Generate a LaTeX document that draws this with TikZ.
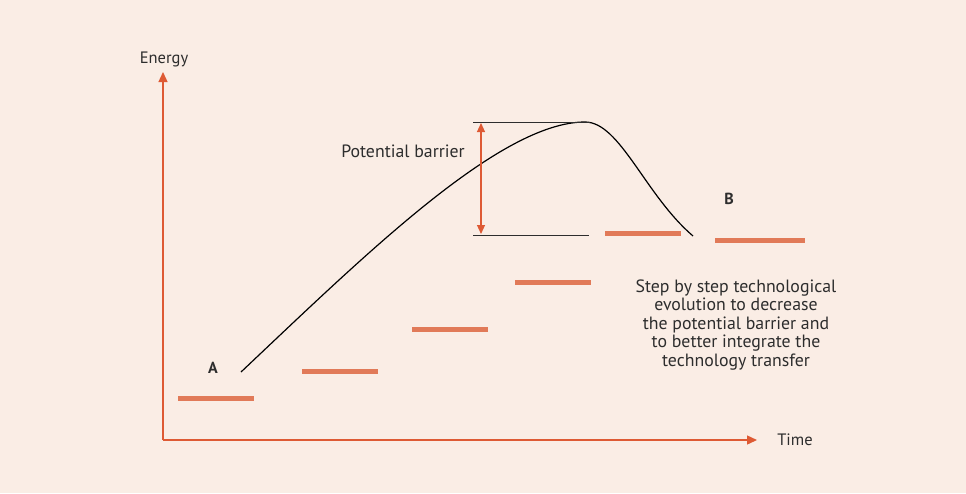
\documentclass[tikz,border=0pt]{standalone}
\usepackage{fontspec}
\setmainfont{PT Sans}
\usetikzlibrary{arrows.meta}
\definecolor{bgpeach}{RGB}{250,237,229}
\definecolor{axisred}{RGB}{222,90,52}
\definecolor{barorange}{RGB}{225,122,88}
\definecolor{txtgray}{RGB}{45,45,45}
\tikzset{
  axis/.style={draw=axisred, line width=1.3pt, -{Triangle[length=10pt,width=9pt]}},
  level/.style={draw=barorange, line width=5pt},
  lbl/.style={text=txtgray, font=\fontsize{16.5}{19}\selectfont, inner sep=0pt},
  big/.style={lbl, font=\fontsize{17.8}{18.5}\selectfont},
}
\begin{document}
\begin{tikzpicture}[x=1pt,y=-1pt]
\fill[bgpeach] (0,0) rectangle (966,493);
\useasboundingbox (0,0) rectangle (966,493);
% axes
\coordinate (O) at (163,440);
\coordinate (ytop) at (163,72);
\coordinate (xend) at (757,440);
\draw[axis] (O) -- (ytop);
\draw[axis] (O) -- (xend);
\node[lbl] (energy) at (164,59) {Energy};
\node[lbl] (time) at (795,440) {Time};
% energy levels
\coordinate (l1a) at (178,398); \coordinate (l1b) at (254,398);
\coordinate (l2a) at (302,371); \coordinate (l2b) at (378,371);
\coordinate (l3a) at (412,329); \coordinate (l3b) at (488,329);
\coordinate (l4a) at (515,282); \coordinate (l4b) at (591,282);
\coordinate (l5a) at (605,233); \coordinate (l5b) at (681,233);
\coordinate (l6a) at (715,240); \coordinate (l6b) at (805,240);
\foreach \i in {1,...,6}
  \draw[level] (l\i a) -- (l\i b);
% barrier curve
\coordinate (start) at (241,372);
\coordinate (peak) at (585,122);
\coordinate (finish) at (693,236);
\draw[black, line width=1.2pt] (start) .. controls (365,255) and (500,122) .. (peak)
  .. controls (620,122) and (645,195) .. (finish);
\node[lbl, font=\fontsize{16}{18}\bfseries] (A) at (213,368) {A};
\node[lbl, font=\fontsize{16}{18}\bfseries] (B) at (729,199) {B};
% barrier height
\coordinate (top1) at (473,122); \coordinate (top2) at (590,122);
\coordinate (bot1) at (473,235); \coordinate (bot2) at (589,235);
\draw[txtgray, line width=1pt] (top1) -- (top2);
\draw[txtgray, line width=1pt] (bot1) -- (bot2);
\coordinate (hi) at (481,123); \coordinate (lo) at (481,234);
\draw[axisred, line width=1.1pt, {Triangle[length=9pt,width=8pt]}-{Triangle[length=9pt,width=8pt]}] (hi) -- (lo);
\node[big] (barrier) at (403,151) {Potential barrier};
\node[big, align=center] (note) at (736,325)
  {Step by step technological\\evolution to decrease\\the potential barrier and\\to better integrate the\\technology transfer};
\end{tikzpicture}
\end{document}
